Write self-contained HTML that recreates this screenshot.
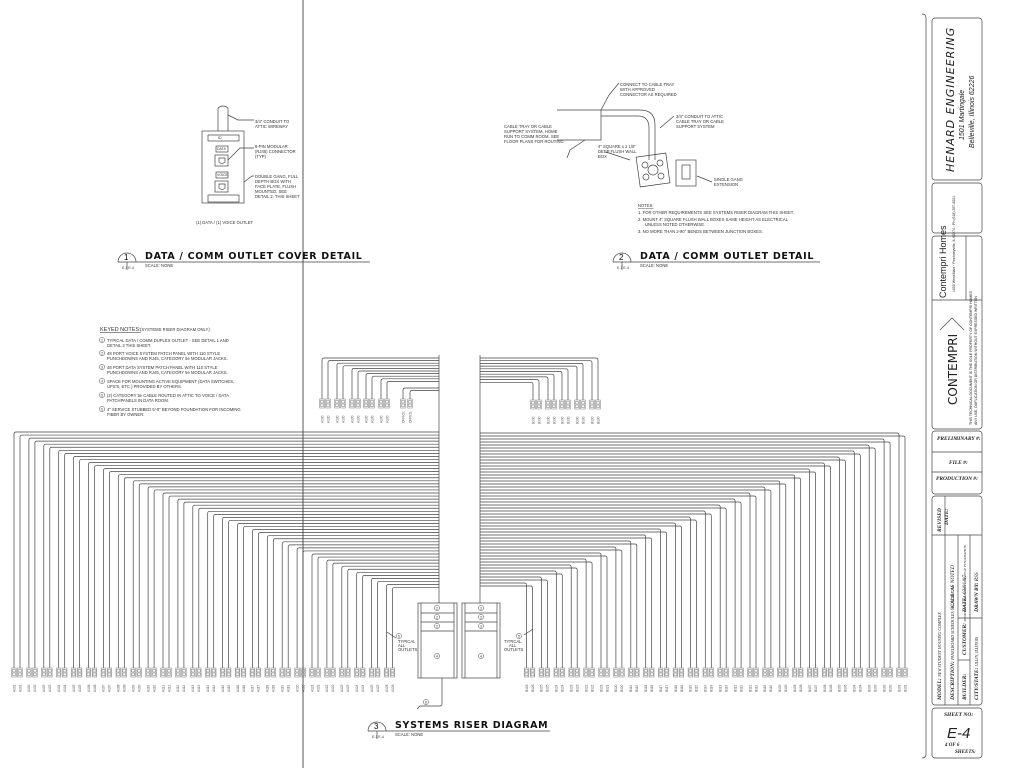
<!DOCTYPE html>
<html><head><meta charset="utf-8">
<style>
html,body{margin:0;padding:0;background:#fff;}
svg{display:block;font-family:"Liberation Sans",sans-serif;}
.t{font-size:4.2px;fill:#333;}
.h{font-family:"DejaVu Sans",sans-serif;font-weight:bold;font-size:9.5px;letter-spacing:0.7px;fill:#111;}
</style></head><body>
<svg id="s" width="1024" height="768" viewBox="0 0 1024 768" xmlns="http://www.w3.org/2000/svg">
<g stroke="#444" stroke-width="0.7" fill="none">
<line x1="303" y1="0" x2="303" y2="768" stroke="#555" stroke-width="1"/>
<path d="M922 14 Q926 14 926 18 L926 754 Q926 758 922 758"/>
<rect x="932" y="18" width="50" height="162" rx="3"/>
<rect x="932" y="183" width="50" height="50" rx="3"/>
<rect x="932" y="236" width="50" height="193" rx="3"/>
<line x1="966" y1="236" x2="966" y2="300"/>
<line x1="932" y1="300" x2="982" y2="300"/>
<rect x="932" y="431" width="50" height="63" rx="3"/>
<line x1="932" y1="452" x2="982" y2="452"/><line x1="932" y1="472" x2="982" y2="472"/>
<rect x="932" y="496" width="50" height="209" rx="3"/>
<line x1="932" y1="535" x2="982" y2="535"/>
<line x1="945" y1="496" x2="945" y2="705"/><line x1="958" y1="535" x2="958" y2="705"/><line x1="970" y1="535" x2="970" y2="705"/>
<line x1="958" y1="618" x2="982" y2="618"/><line x1="958" y1="660" x2="970" y2="660"/>
<rect x="932" y="708" width="50" height="50" rx="3"/>
<path d="M940 330 L952 318 L964 330" />
<rect x="202" y="131" width="42" height="72"/>
<path d="M218 131 L218 108 M228 131 L228 108 M218 108 Q223 104 228 108"/>
<rect x="208" y="135" width="31" height="6"/>
<rect x="216" y="146" width="12" height="6"/><rect x="215" y="155" width="13" height="11"/>
<rect x="216" y="172" width="12" height="6"/><rect x="215" y="181" width="13" height="11"/>
<rect x="208" y="195" width="31" height="7"/>
<path d="M219 158 h6 v4 l-3 2 l-3 -2 z M219 184 h6 v4 l-3 2 l-3 -2 z"/>
<path d="M228 115 L238 120 h16 M228 160 L240 148 h14 M244 182 L252 176 h2"/>
<path d="M557 110 H601 V140 H557"/>
<path d="M601 110 H640 Q655 110 655 125 V160 M601 116 H638 Q649 116 649 128 V160"/>
<path d="M601 110 L609 95 L619 83 M585 140 L570 150 L567 158 M660 128 L674 116 M606 152 L630 160"/>
<rect x="638" y="155" width="30" height="30" transform="rotate(-8 653 170)"/>
<circle cx="653" cy="170" r="5"/><circle cx="645" cy="165" r="3"/><circle cx="660" cy="163" r="3"/><circle cx="646" cy="177" r="3"/><circle cx="661" cy="176" r="3"/>
<rect x="676" y="160" width="20" height="26"/><rect x="682" y="165" width="8" height="14"/>
<path d="M697 176 L712 182"/>
<path d="M118 262 A9 9 0 0 1 136 262 M127 262 V270 M118 262 H370"/>
<path d="M613 262 A9 9 0 0 1 631 262 M622 262 V270 M613 262 H820"/>
<path d="M368 731 A9 9 0 0 1 386 731 M377 731 V739 M368 731 H550"/>
<rect x="418" y="603" width="39" height="75"/><rect x="462" y="603" width="38" height="75"/>
<line x1="421" y1="603" x2="421" y2="678"/><line x1="454" y1="603" x2="454" y2="678"/>
<line x1="465" y1="603" x2="465" y2="678"/><line x1="497" y1="603" x2="497" y2="678"/>
<line x1="421" y1="613" x2="454" y2="613"/><line x1="421" y1="622" x2="454" y2="622"/><line x1="421" y1="631" x2="454" y2="631"/>
<line x1="465" y1="613" x2="497" y2="613"/><line x1="465" y1="622" x2="497" y2="622"/><line x1="465" y1="631" x2="497" y2="631"/>
<path d="M442 678 V704 Q442 706 440 706 H420 L417 709"/>
<path d="M387 632 L396 638 M533 629 L524 635"/>
<g id="wires"></g>
<g id="boxes" stroke="#777" stroke-width="0.5"></g>
</g>
<g id="circ" stroke="#444" stroke-width="0.5" fill="#fff"></g>
<g id="lbl"></g>
<g class="t">
<text x="255" y="123">3/4" CONDUIT TO</text><text x="255" y="128">ATTIC WIREWAY</text>
<text x="255" y="148">8-PIN MODULAR</text><text x="255" y="153">(RJ45) CONNECTOR</text><text x="255" y="158">(TYP)</text>
<text x="255" y="178">DOUBLE GANG, FULL</text><text x="255" y="183">DEPTH BOX WITH</text><text x="255" y="188">FACE PLATE, FLUSH</text><text x="255" y="193">MOUNTED. SEE</text><text x="255" y="198">DETAIL 2, THIS SHEET</text>
<text x="218" y="139" font-size="3.5">ID</text><text x="217" y="150" font-size="3.5">DATA</text><text x="217" y="176" font-size="3.5">VOICE</text>
<text x="196" y="224">(1) DATA / (1) VOICE OUTLET</text>
<text x="620" y="86">CONNECT TO CABLE TRAY</text><text x="620" y="91">WITH APPROVED</text><text x="620" y="96">CONNECTOR AS REQUIRED</text>
<text x="504" y="128">CABLE TRAY OR CABLE</text><text x="504" y="133">SUPPORT SYSTEM, HOME</text><text x="504" y="138">RUN TO COMM ROOM. SEE</text><text x="504" y="143">FLOOR PLANS FOR ROUTING</text>
<text x="676" y="118">3/4" CONDUIT TO ATTIC</text><text x="676" y="123">CABLE TRAY OR CABLE</text><text x="676" y="128">SUPPORT SYSTEM</text>
<text x="598" y="148">4" SQUARE x 2 1/8"</text><text x="598" y="153">DEEP FLUSH WALL</text><text x="598" y="158">BOX</text>
<text x="714" y="181">SINGLE GANG</text><text x="714" y="186">EXTENSION</text>
<text x="638" y="207" text-decoration="underline">NOTES:</text>
<text x="638" y="214">1. FOR OTHER REQUIREMENTS SEE SYSTEMS RISER DIAGRAM THIS SHEET.</text>
<text x="638" y="221">2. MOUNT 4" SQUARE FLUSH WALL BOXES SAME HEIGHT AS ELECTRICAL</text><text x="645" y="226">UNLESS NOTED OTHERWISE.</text>
<text x="638" y="233">3. NO MORE THAN 2-90° BENDS BETWEEN JUNCTION BOXES.</text>
<text x="145" y="267">SCALE: NONE</text><text x="640" y="267">SCALE: NONE</text><text x="395" y="736">SCALE: NONE</text>
<text x="122" y="269" font-size="3.5">E-1 E-4</text><text x="617" y="269" font-size="3.5">E-1 E-4</text><text x="372" y="738" font-size="3.5">E-1 E-4</text>
<text x="100" y="331" font-size="5.5" text-decoration="underline">KEYED NOTES:</text><text x="140" y="331">(SYSTEMS RISER DIAGRAM ONLY)</text>
<text x="107" y="342">TYPICAL DATA / COMM DUPLEX OUTLET - SEE DETAIL 1 AND</text><text x="107" y="347">DETAIL 2 THIS SHEET.</text>
<text x="107" y="355">48 PORT VOICE SYSTEM PATCH PANEL WITH 110 STYLE</text><text x="107" y="360">PUNCHDOWNS AND RJ45, CATEGORY 5e MODULAR JACKS.</text>
<text x="107" y="369">48 PORT DATA SYSTEM PATCH PANEL WITH 110 STYLE</text><text x="107" y="374">PUNCHDOWNS AND RJ45, CATEGORY 5e MODULAR JACKS.</text>
<text x="107" y="383">SPACE FOR MOUNTING ACTIVE EQUIPMENT (DATA SWITCHES,</text><text x="107" y="388">UPS'S, ETC.) PROVIDED BY OTHERS.</text>
<text x="107" y="397">(2) CATEGORY 5e CABLE ROUTED IN ATTIC TO VOICE / DATA</text><text x="107" y="402">PATCHPANELS IN DATA ROOM.</text>
<text x="107" y="411">4" SERVICE STUBBED 5'-0" BEYOND FOUNDATION FOR INCOMING</text><text x="107" y="416">FIBER BY OWNER.</text>
<text x="398" y="643">TYPICAL</text><text x="398" y="647">ALL</text><text x="398" y="651">OUTLETS</text>
<text x="504" y="643">TYPICAL</text><text x="509" y="647">ALL</text><text x="504" y="651">OUTLETS</text>
</g>
<text class="h" x="145" y="259">DATA / COMM OUTLET COVER  DETAIL</text>
<text class="h" x="640" y="259">DATA / COMM OUTLET  DETAIL</text>
<text class="h" x="395" y="728">SYSTEMS RISER DIAGRAM</text>
<text x="124" y="260" font-size="8">1</text><text x="619" y="260" font-size="8">2</text><text x="374" y="729" font-size="8">3</text>
<g font-family="Liberation Sans,sans-serif" fill="#222">
<text transform="translate(954 172) rotate(-90)" font-size="11" font-style="italic" font-family="DejaVu Sans,sans-serif" letter-spacing="1">HENARD ENGINEERING</text>
<text transform="translate(964 140) rotate(-90)" font-size="7" font-style="italic">1501 Martingale</text>
<text transform="translate(974 148) rotate(-90)" font-size="7" font-style="italic">Belleville, Illinois 62226</text>
<text transform="translate(946 298) rotate(-90)" font-size="9">Contempri Homes</text>
<text transform="translate(955 292) rotate(-90)" font-size="3.5">1000 West Main · Pinckneyville, IL 62274 · Ph (618) 357-8221</text>
<text transform="translate(957 405) rotate(-90)" font-size="12" font-family="DejaVu Sans,sans-serif">CONTEMPRI</text>
<text transform="translate(972 425) rotate(-90)" font-size="3.5">THIS TECHNICAL DOCUMENT IS THE SOLE PROPERTY OF CONTEMPRI HOMES</text>
<text transform="translate(977 425) rotate(-90)" font-size="3.5">ANY USE, DUPLICATION OR DISTRIBUTION WITHOUT EXPRESSED WRITTEN</text>
<g font-family="Liberation Serif,serif" font-style="italic" font-weight="bold" font-size="5.5">
<text x="937" y="440">PRELIMINARY #:</text><text x="949" y="464">FILE #:</text><text x="936" y="480">PRODUCTION #:</text>
<text transform="translate(941 532) rotate(-90)">REVISED</text><text transform="translate(948 525) rotate(-90)">DATE:</text>
<text transform="translate(941 700) rotate(-90)">MODEL: <tspan font-weight="normal" font-size="4">NEW STUDENT HOUSING COMPLEX</tspan></text>
<text transform="translate(954 700) rotate(-90)">DESCRIPTION: <tspan font-weight="normal" font-size="4">PANELBOARD SCHEDULES - ELECTRICAL</tspan></text>
<text transform="translate(954 610) rotate(-90)" font-weight="normal">SCALE: AS NOTED</text>
<text transform="translate(966 700) rotate(-90)">BUILDER:</text><text transform="translate(966 655) rotate(-90)">CUSTOMER: <tspan font-weight="normal" font-size="3.5">SHAWNEE COMMUNITY COLLEGE FOUNDATION</tspan></text>
<text transform="translate(966 612) rotate(-90)">DATE: <tspan font-weight="normal">03/01/07</tspan></text>
<text transform="translate(978 700) rotate(-90)">CITY/STATE: <tspan font-weight="normal" font-size="4">ULLIN, ILLINOIS</tspan></text>
<text transform="translate(978 612) rotate(-90)">DRAWN BY: <tspan font-weight="normal">RSS</tspan></text>
<text x="944" y="716">SHEET NO:</text><text x="945" y="746" font-size="5">4 OF 6</text><text x="955" y="753" font-size="5">SHEETS:</text>
</g>
<text x="947" y="738" font-size="15" font-style="italic">E-4</text>
</g>
</svg>
<script>
var NS="http://www.w3.org/2000/svg",W=document.getElementById("wires"),B=document.getElementById("boxes"),C=document.getElementById("circ"),L=document.getElementById("lbl");
function p(d){var e=document.createElementNS(NS,"path");e.setAttribute("d",d);W.appendChild(e);}
function r(x,y,w,h){var e=document.createElementNS(NS,"rect");e.setAttribute("x",x);e.setAttribute("y",y);e.setAttribute("width",w);e.setAttribute("height",h);B.appendChild(e);}
function t(x,y,s,sz){var e=document.createElementNS(NS,"text");e.setAttribute("transform","translate("+x+" "+y+") rotate(-90)");e.setAttribute("font-size",sz||3.2);e.setAttribute("fill","#555");e.textContent=s;L.appendChild(e);}
function c(x,y,n){var e=document.createElementNS(NS,"circle");e.setAttribute("cx",x);e.setAttribute("cy",y);e.setAttribute("r",2.6);C.appendChild(e);var q=document.createElementNS(NS,"text");q.setAttribute("x",x-1);q.setAttribute("y",y+1.3);q.setAttribute("font-size",3.5);q.setAttribute("fill","#333");q.textContent=n;L.appendChild(q);}
function outlet(x,y,lab){r(x-2.3,y,4.6,9);r(x-1.5,y+1.5,3,2.5);r(x-1.5,y+5,3,2.5);t(x+1.3,y+24,lab);}
for(var i=0;i<52;i++){var pr=Math.floor(i/2),x=14+pr*14.9+(i%2)*6,y=432+i*3.05;p("M"+x+" 668 V"+(y+2)+" Q"+x+" "+y+" "+(x+2)+" "+y+" H439");
outlet(x,668,"A1"+(pr+1<10?"0":"")+(pr+1));}
for(var i=0;i<52;i++){var pr=Math.floor(i/2),x=905-pr*14.9-(1-i%2)*6,y=433+i*3.0;p("M"+x+" 668 V"+(y+2)+" Q"+x+" "+y+" "+(x-2)+" "+y+" H480");
outlet(x,668,"B1"+(pr+1<10?"0":"")+(pr+1));}
var tl=[322,328,337,343,352,358,366,372,381,387,403,410];
for(var i=0;i<12;i++){var x=tl[i],y=358+i*2.6;if(i>=10)y=388+(i-10)*2.5;p("M"+x+" 399 V"+(y+2)+" Q"+x+" "+y+" "+(x+2)+" "+y+" H439");outlet(x,399,i>=10?"OFFICE":"A130");}
var tr=[598,592,583,577,568,562,554,548,539,533];
for(var i=0;i<10;i++){var x=tr[i],y=358+i*2.7;p("M"+x+" 400 V"+(y+2)+" Q"+x+" "+y+" "+(x-2)+" "+y+" H480");outlet(x,400,"B130");}
p("M439 355 V603");p("M480 355 V603");
[[437,608,"2"],[437,617,"2"],[437,626,"2"],[481,608,"3"],[481,617,"3"],[481,626,"3"],[437,656,"4"],[481,656,"4"],[426,702,"6"],[399,636,"5"],[519,636,"5"]].forEach(function(a){c(a[0],a[1],a[2]);});
[342,355,369,383,397,411].forEach(function(y,i){c(102,y-2,String(i+1));});
</script>
</body></html>
